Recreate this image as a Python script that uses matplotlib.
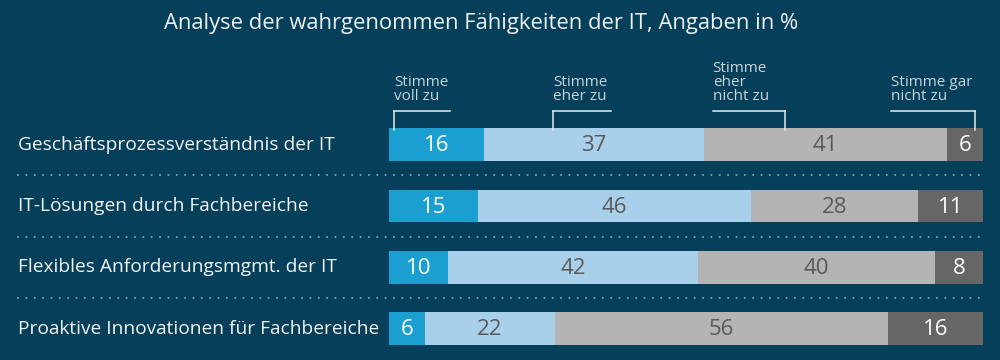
import matplotlib.pyplot as plt
import matplotlib.transforms as mtransforms

# ---------- data ----------
categories = [
    "Geschäftsprozessverständnis der IT",
    "IT-Lösungen durch Fachbereiche",
    "Flexibles Anforderungsmgmt. der IT",
    "Proaktive Innovationen für Fachbereiche",
]
voll_zu = [16, 15, 10, 6]
eher_zu = [37, 46, 42, 22]
eher_nicht_zu = [41, 28, 40, 56]
gar_nicht_zu = [6, 11, 8, 16]

answer_labels = ["Stimme\nvoll zu", "Stimme\neher zu", "Stimme\neher\nnicht zu", "Stimme gar\nnicht zu"]
title = "Analyse der wahrgenommen Fähigkeiten der IT, Angaben in %"

# ---------- style ----------
bg = "#053f59"
seg_colors = ["#1a9fd0", "#a9d0ea", "#b4b4b4", "#666666"]
num_colors = ["white", "#5a5a5a", "#5a5a5a", "white"]
font = "Open Sans"

plt.rcParams['font.family'] = [font, 'DejaVu Sans']

fig = plt.figure(figsize=(10, 3.6), dpi=100, facecolor=bg)
# bar area: x 389..983 px, rows spaced ~61.4 px, first row centre at 144.5 px
row_px = 61.4
ax_top = 144.5 - row_px / 2
ax_h = 4 * row_px
ax = fig.add_axes([0.389, (360 - ax_top - ax_h) / 360, 0.594, ax_h / 360])
ax.set_facecolor(bg)
ax.set_xlim(0, 100)
ax.set_ylim(3.5, -0.5)
ax.axis("off")

series = [voll_zu, eher_zu, eher_nicht_zu, gar_nicht_zu]
ypos = list(range(len(categories)))
bar_h = 32.5 / row_px
left = [0] * len(categories)
for vals, col, tcol in zip(series, seg_colors, num_colors):
    ax.barh(ypos, vals, left=left, height=bar_h, color=col, edgecolor=col, linewidth=0)
    for y, v, l in zip(ypos, vals, left):
        ax.text(l + v / 2, y + 0.02, str(v), ha="center", va="center",
                color=tcol, fontsize=16)
    left = [l + v for l, v in zip(left, vals)]

trans = mtransforms.blended_transform_factory(ax.transAxes, ax.transData)
x_lab = (18 - 389) / 594
x_end = (985 - 389) / 594
for y, cat in zip(ypos, categories):
    ax.text(x_lab, y, cat, transform=trans, ha="left", va="center",
            color="#f2f5f7", fontsize=13.8, clip_on=False)

# dotted separators
for y in [0.5, 1.5, 2.5]:
    ax.plot([x_lab, x_end], [y, y], transform=trans, color="#7aa5b8",
            lw=1.5, dashes=(0.01, 4.0), dash_capstyle="round", clip_on=False)

# header labels with brackets, tied to first-row segments
def px2y(p):
    return (p - 144.5) / row_px

bracket_h = [(0.9, 10.2, 0.9), (27.6, 37.4, 27.6), (54.5, 66.6, 66.6), (84.5, 98.6, 98.6)]
y_line = px2y(111)
y_bar_top = px2y(130)
y_text = px2y(104)
for lab, (x0, x1, xv) in zip(answer_labels, bracket_h):
    ax.plot([x0, x1], [y_line, y_line], color="#e6ecef", lw=1.1, clip_on=False)
    ax.plot([xv, xv], [y_line, y_bar_top], color="#e6ecef", lw=1.1, clip_on=False)
    ax.text(x0, y_text, lab, ha="left", va="bottom", color="#c9d4da",
            fontsize=11, linespacing=0.92, clip_on=False)

fig.text(0.481, 1 - 23 / 360, title, ha="center", va="center",
         color="#eef2f4", fontsize=15.8)

fig.savefig("out.png", dpi=100, facecolor=bg)
